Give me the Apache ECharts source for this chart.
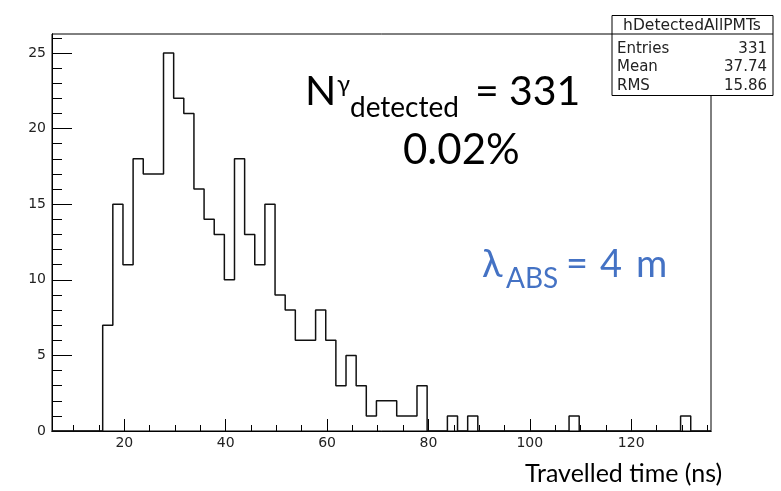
<!DOCTYPE html>
<html>
<head>
<meta charset="utf-8">
<script src="https://cdn.jsdelivr.net/npm/echarts@6/dist/echarts.min.js"></script>
<style>
  html, body { margin: 0; padding: 0; background: #fff; }
  #chart { width: 781px; height: 491px; }
</style>
</head>
<body>
<div id="chart"></div>
<script>
// Histogram of photon travel time, 2 ns bins
const binStart = 5.74;
const binWidth = 2;
const counts = [
  0, 0, 0, 0, 0,
  7, 15, 11, 18, 17, 17, 25, 22, 21, 16,
  14, 13, 10, 18, 13, 11, 15, 9, 8, 6,
  6, 8, 6, 3, 5, 3, 1, 2, 2, 1,
  1, 3, 0, 0, 1, 0, 1, 0, 0, 0,
  0, 0, 0, 0, 0, 0, 1, 0, 0, 0,
  0, 0, 0, 0, 0, 0, 0, 1, 0, 0
];
const xMin = 5.74;
const xMax = 135.74;
const yMax = 26.25;
const xMajorTicks = [20, 40, 60, 80, 100, 120];
const xMinorTicks = [10, 15, 20, 25, 30, 35, 40, 45, 50, 55, 60, 65, 70, 75, 80, 85, 90, 95, 100, 105, 110, 115, 120, 125, 130, 135];
const yMajorTicks = [0, 5, 10, 15, 20, 25];
const yMinorTicks = [0, 1, 2, 3, 4, 5, 6, 7, 8, 9, 10, 11, 12, 13, 14, 15, 16, 17, 18, 19, 20, 21, 22, 23, 24, 25, 26];
const statsRows = [
  ['Entries', '331'],
  ['Mean', '37.74'],
  ['RMS', '15.86']
];
const histName = 'hDetectedAllPMTs';

// step outline: each bin's left edge carries its count
const outline = counts.map((c, i) => [binStart + i * binWidth, c]);
outline.push([binStart + counts.length * binWidth, counts[counts.length - 1]]);

const rootFont = 'DejaVu Sans';
const noteFont = 'Lato';
const ink = '#222';
const blue = '#4472c4';

const chart = echarts.init(document.getElementById('chart'), null, { renderer: 'canvas' });

function axisBase(extra) {
  return Object.assign({
    type: 'value',
    splitLine: { show: false },
    axisLine: { show: true, onZero: false, lineStyle: { color: '#000', width: 1 } }
  }, extra);
}

function note(text, x, y, size, color, align) {
  return {
    type: 'text', z: 50, x: x, y: y,
    style: { text: text, font: size + 'px "' + noteFont + '"', fill: color, align: align || 'left', verticalAlign: 'middle' }
  };
}

const option = {
  backgroundColor: '#fff',
  animation: false,
  grid: {
    left: 52, right: 70, top: 34, bottom: 60,
    show: true, borderColor: '#000', borderWidth: 1, backgroundColor: 'transparent'
  },
  xAxis: [
    axisBase({
      min: xMin, max: xMax, position: 'bottom',
      axisTick: { show: true, inside: true, length: 6, customValues: xMinorTicks, lineStyle: { color: '#000' } },
      axisLabel: { show: false }
    }),
    axisBase({
      min: xMin, max: xMax, position: 'bottom', offset: 0,
      axisTick: { show: true, inside: true, length: 12, customValues: xMajorTicks, lineStyle: { color: '#000' } },
      axisLabel: { show: true, customValues: xMajorTicks, margin: 5, color: ink, fontFamily: rootFont, fontSize: 14 }
    })
  ],
  yAxis: [
    axisBase({
      min: 0, max: yMax, position: 'left',
      axisTick: { show: true, inside: true, length: 10, customValues: yMinorTicks, lineStyle: { color: '#000' } },
      axisLabel: { show: false }
    }),
    axisBase({
      min: 0, max: yMax, position: 'left', offset: 0,
      axisTick: { show: true, inside: true, length: 20, customValues: yMajorTicks, lineStyle: { color: '#000' } },
      axisLabel: { show: true, customValues: yMajorTicks, margin: 6, color: ink, fontFamily: rootFont, fontSize: 14 }
    })
  ],
  series: [{
    type: 'line',
    xAxisIndex: 0,
    yAxisIndex: 0,
    step: 'end',
    symbol: 'none',
    data: outline,
    lineStyle: { color: '#111', width: 1.5 },
    z: 5
  }],
  graphic: [
    // statistics box
    { type: 'rect', z: 100, shape: { x: 612, y: 15.5, width: 161, height: 80 },
      style: { fill: '#fff', stroke: '#000', lineWidth: 1 } },
    { type: 'line', z: 101, shape: { x1: 612, y1: 34, x2: 773, y2: 34 },
      style: { stroke: '#000', lineWidth: 1 } },
    { type: 'text', z: 101, x: 692, y: 26,
      style: { text: histName, font: '15.5px "' + rootFont + '"', fill: ink, align: 'center', verticalAlign: 'middle' } },
    ...statsRows.flatMap((r, i) => [
      { type: 'text', z: 101, x: 617, y: 49 + i * 18.5,
        style: { text: r[0], font: '15px "' + rootFont + '"', fill: ink, align: 'left', verticalAlign: 'middle' } },
      { type: 'text', z: 101, x: 767, y: 49 + i * 18.5,
        style: { text: r[1], font: '15px "' + rootFont + '"', fill: ink, align: 'right', verticalAlign: 'middle' } }
    ]),
    // detected-photon annotation
    note('N', 305, 92, 41, '#000'),
    note('γ', 337, 84, 24, '#000'),
    note('detected', 350, 108, 28, '#000'),
    note('=', 475, 92, 41, '#000'),
    note('331', 509, 92, 41, '#000'),
    note('0.02%', 403, 150, 42, '#000'),
    // absorption length annotation
    note('λ', 482, 265, 38, blue),
    note('ABS', 506, 279, 28, blue),
    note('=', 566, 265, 38, blue),
    note('4', 600, 265, 38, blue),
    note('m', 636, 265, 38, blue),
    // axis title
    note('Travelled time (ns)', 525, 474, 25, '#000')
  ]
};

chart.setOption(option);
</script>
</body>
</html>
